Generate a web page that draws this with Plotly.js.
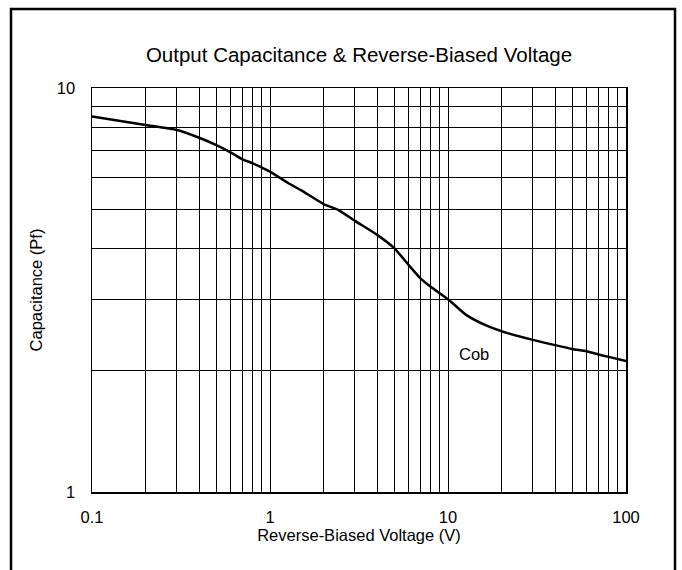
<!DOCTYPE html>
<html>
<head>
<meta charset="utf-8">
<script src="https://cdn.plot.ly/plotly-3.0.1.min.js"></script>
<style>
html,body{margin:0;padding:0;background:#fff;}
#chart{width:682px;height:570px;}
</style>
</head>
<body>
<div id="chart"></div>
<script>
// Data
const voltage = [0.1, 0.2, 0.3, 0.4, 0.5, 0.6, 0.7, 0.8, 0.9, 1, 1.27, 1.5, 2, 2.4, 3, 4, 5, 6, 7, 8, 10, 12.7, 16.5, 20, 30, 40, 50, 60, 70, 80, 100];
const capacitance = [8.5, 8.1, 7.87, 7.53, 7.22, 6.93, 6.66, 6.51, 6.35, 6.21, 5.81, 5.58, 5.16, 5.0, 4.69, 4.33, 4.01, 3.65, 3.38, 3.22, 3.0, 2.74, 2.58, 2.5, 2.38, 2.31, 2.26, 2.23, 2.19, 2.16, 2.11];
const seriesName = "Cob";
const labelPos = [14, 2.19];

const xTickVals = [0.1,0.2,0.3,0.4,0.5,0.6,0.7,0.8,0.9,1,2,3,4,5,6,7,8,9,10,20,30,40,50,60,70,80,90,100];
const xMajor = ["0.1","1","10","100"];
const yTickVals = [1,2,3,4,5,6,7,8,9,10];
const yMajor = ["1","10"];

const xTickText = xTickVals.map(v => xMajor.includes(String(v)) ? String(v) : "");
const yTickText = yTickVals.map(v => yMajor.includes(String(v)) ? String(v) : "");

const font = {family: "Liberation Sans, Arial, sans-serif", color: "#000"};

const trace = {
  x: voltage, y: capacitance, name: seriesName,
  type: "scatter", mode: "lines",
  line: {color: "#000", width: 2.5, shape: "spline", smoothing: 0.5},
  hoverinfo: "skip"
};

// outer frame (paper coords relative to plot area)
const L = (11-92)/534, R = (675-92)/534, T = (492-9)/404, B = -0.25;

const layout = {
  width: 682, height: 570,
  margin: {l: 92, r: 56, t: 88, b: 78},
  paper_bgcolor: "#fff", plot_bgcolor: "#fff",
  showlegend: false,
  font: Object.assign({size: 16}, font),
  title: {text: "Output Capacitance &amp; Reverse-Biased Voltage", font: Object.assign({size: 20.5}, font),
          x: 0.5, xref: "paper", y: 1 - 55/570, yref: "container", yanchor: "middle"},
  xaxis: {
    type: "log", range: [-1, 2],
    tickmode: "array", tickvals: xTickVals, ticktext: xTickText,
    ticks: "outside", ticklen: 10, tickcolor: "rgba(0,0,0,0)",
    showgrid: true, gridcolor: "#000", gridwidth: 1,
    showline: true, linecolor: "#000", linewidth: 1.5, mirror: true,
    zeroline: false,
    tickfont: Object.assign({size: 16.5}, font),
    title: {text: "Reverse-Biased Voltage (V)", font: Object.assign({size: 16.5}, font), standoff: 4}
  },
  yaxis: {
    type: "log", range: [0, 1],
    tickmode: "array", tickvals: yTickVals, ticktext: yTickText,
    ticks: "outside", ticklen: 12, tickcolor: "rgba(0,0,0,0)",
    showgrid: true, gridcolor: "#000", gridwidth: 1,
    showline: true, linecolor: "#000", linewidth: 1.5, mirror: true,
    zeroline: false,
    tickfont: Object.assign({size: 16.5}, font),
    title: {text: "Capacitance (Pf)", font: Object.assign({size: 16.5}, font), standoff: 10}
  },
  annotations: [{
    x: Math.log10(labelPos[0]), y: Math.log10(labelPos[1]), xref: "x", yref: "y",
    text: seriesName, showarrow: false, font: Object.assign({size: 16.5}, font)
  }],
  shapes: [{
    type: "path", xref: "paper", yref: "paper",
    path: `M ${L},${B} L ${L},${T} L ${R},${T} L ${R},${B}`,
    line: {color: "#000", width: 2.5}
  }]
};

Plotly.newPlot("chart", [trace], layout, {staticPlot: true, displayModeBar: false});
</script>
</body>
</html>
